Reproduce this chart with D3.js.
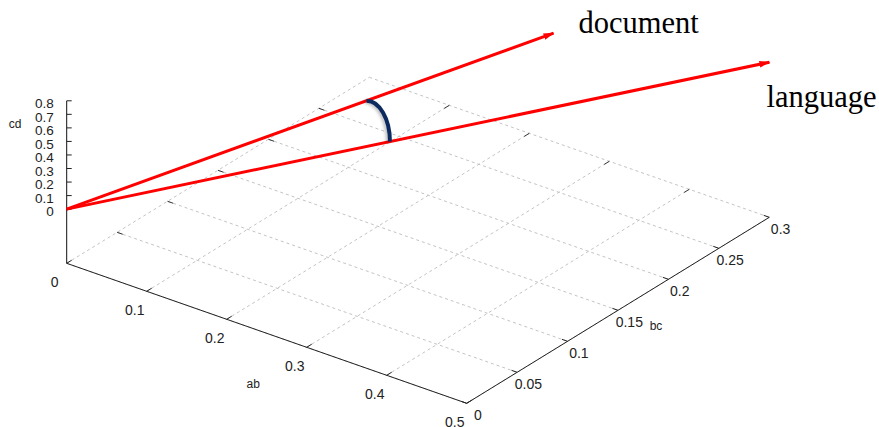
<script src="https://d3js.org/d3.v7.min.js"></script>

<style>
  body { margin: 0; background: #fff; }
  .tick-label, .axis-title { font-family: "Liberation Sans", Arial, sans-serif; fill: #222; }
  .vec-label { font-family: "Liberation Serif", "Times New Roman", serif; fill: #000; }
</style>

<svg id="main_canvas" width=879 height=427></svg>

<script>
  "use strict";

  // Tick values on the three axes
  const AB_TICKS = [0, 0.1, 0.2, 0.3, 0.4, 0.5];
  const BC_TICKS = [0, 0.05, 0.1, 0.15, 0.2, 0.25, 0.3];
  const CD_TICKS = [0, 0.1, 0.2, 0.3, 0.4, 0.5, 0.6, 0.7, 0.8];

  // The two vectors (ab, bc, cd components)
  const VECTOR_NAMES = ["document", "language"];
  const VECTOR_AB = [0.265, 0.422];
  const VECTOR_BC = [0.2725, 0.362];
  const VECTOR_CD = [0.6, 0.3];
  // where the angle arc touches each vector (fraction of its length)
  const ARC_AT = [0.616, 0.46];

  const FLOOR_CD = -0.4; // base plane sits below cd = 0
  const ORIGIN_X = 66.7;

  // screen offsets contributed by each axis
  const abX = d3.scaleLinear().domain([0, 0.5]).range([0, 400]);
  const abY = d3.scaleLinear().domain([0, 0.5]).range([0, 140]);
  const bcX = d3.scaleLinear().domain([0, 0.3]).range([0, 302.6]);
  const bcY = d3.scaleLinear().domain([0, 0.3]).range([0, -186]);
  const cdY = d3.scaleLinear().domain([FLOOR_CD, 0.8]).range([263.3, 100.8]);

  const project = (a, b, c) => [ORIGIN_X + abX(a) + bcX(b), cdY(c) + abY(a) + bcY(b)];
  const fmt = (v) => String(v);

  const canvas = d3.select("#main_canvas");
  const line = d3.line();

  // Floor grid (dashed)
  const AB_MAX = AB_TICKS[AB_TICKS.length - 1];
  const BC_MAX = BC_TICKS[BC_TICKS.length - 1];

  canvas.append("g")
    .selectAll("path")
    .data(AB_TICKS)
    .enter()
    .append("path")
    .attr("d", (t) => line([project(t, 0, FLOOR_CD), project(t, BC_MAX, FLOOR_CD)]))
    .attr("stroke", "#c4c4c4")
    .attr("stroke-dasharray", "3,3")
    .attr("fill", "none");

  canvas.append("g")
    .selectAll("path")
    .data(BC_TICKS)
    .enter()
    .append("path")
    .attr("d", (t) => line([project(0, t, FLOOR_CD), project(AB_MAX, t, FLOOR_CD)]))
    .attr("stroke", "#c4c4c4")
    .attr("stroke-dasharray", "3,3")
    .attr("fill", "none");

  // Mirror ticks on the back edges
  canvas.append("g")
    .selectAll("path")
    .data(BC_TICKS.slice(1, -1))
    .enter()
    .append("path")
    .attr("d", (t) => line([project(0, t, FLOOR_CD), project(0.007, t, FLOOR_CD)]))
    .attr("stroke", "#333");

  canvas.append("g")
    .selectAll("path")
    .data(AB_TICKS.slice(1, -1))
    .enter()
    .append("path")
    .attr("d", (t) => line([project(t, BC_MAX, FLOOR_CD), project(t, BC_MAX - 0.005, FLOOR_CD)]))
    .attr("stroke", "#333");

  // ab axis
  canvas.append("path")
    .attr("d", line([project(0, 0, FLOOR_CD), project(AB_MAX, 0, FLOOR_CD)]))
    .attr("stroke", "#222")
    .attr("fill", "none");

  canvas.append("g")
    .selectAll("path")
    .data(AB_TICKS)
    .enter()
    .append("path")
    .attr("d", (t) => line([project(t, 0, FLOOR_CD), project(t, 0.005, FLOOR_CD)]))
    .attr("stroke", "#222");

  canvas.append("g")
    .selectAll("text")
    .data(AB_TICKS)
    .enter()
    .append("text")
    .attr("class", "tick-label")
    .attr("x", (t) => project(t, 0, FLOOR_CD)[0] - 12)
    .attr("y", (t) => project(t, 0, FLOOR_CD)[1] + 18.5)
    .attr("dy", "0.36em")
    .attr("text-anchor", "middle")
    .attr("font-size", 14)
    .text(fmt);

  // bc axis
  canvas.append("path")
    .attr("d", line([project(AB_MAX, 0, FLOOR_CD), project(AB_MAX, BC_MAX, FLOOR_CD)]))
    .attr("stroke", "#222")
    .attr("fill", "none");

  canvas.append("g")
    .selectAll("path")
    .data(BC_TICKS)
    .enter()
    .append("path")
    .attr("d", (t) => line([project(AB_MAX, t, FLOOR_CD), project(AB_MAX - 0.007, t, FLOOR_CD)]))
    .attr("stroke", "#222");

  canvas.append("g")
    .selectAll("text")
    .data(BC_TICKS)
    .enter()
    .append("text")
    .attr("class", "tick-label")
    .attr("x", (t) => project(AB_MAX, t, FLOOR_CD)[0] + 11.3)
    .attr("y", (t) => project(AB_MAX, t, FLOOR_CD)[1] + 11.5)
    .attr("dy", "0.36em")
    .attr("text-anchor", "middle")
    .attr("font-size", 14)
    .text(fmt);

  // cd axis
  const CD_MAX = CD_TICKS[CD_TICKS.length - 1];
  canvas.append("path")
    .attr("d", line([project(0, 0, FLOOR_CD), project(0, 0, CD_MAX)]))
    .attr("stroke", "#111")
    .attr("fill", "none");

  canvas.append("g")
    .selectAll("path")
    .data(CD_TICKS)
    .enter()
    .append("path")
    .attr("d", (t) => {
      const p = project(0, 0, t);
      return line([p, [p[0] + 5, p[1]]]);
    })
    .attr("stroke", "#222");

  canvas.append("g")
    .selectAll("text")
    .data(CD_TICKS)
    .enter()
    .append("text")
    .attr("class", "tick-label")
    .attr("x", (t) => project(0, 0, t)[0] - 13)
    .attr("y", (t) => project(0, 0, t)[1] + 2.5)
    .attr("dy", "0.36em")
    .attr("text-anchor", "end")
    .attr("font-size", 13.5)
    .text(fmt);

  // Axis titles
  const abTitle = project(AB_MAX / 2, 0, FLOOR_CD);
  const bcTitle = project(AB_MAX, BC_MAX / 2, FLOOR_CD);
  const cdTitle = project(0, 0, 0.65);
  canvas.append("text")
    .attr("class", "axis-title")
    .attr("x", abTitle[0] - 13.4).attr("y", abTitle[1] + 50)
    .attr("dy", "0.36em").attr("text-anchor", "middle").attr("font-size", 12)
    .text("ab");
  canvas.append("text")
    .attr("class", "axis-title")
    .attr("x", bcTitle[0] + 38).attr("y", bcTitle[1] + 15.7)
    .attr("dy", "0.36em").attr("text-anchor", "middle").attr("font-size", 12)
    .text("bc");
  canvas.append("text")
    .attr("class", "axis-title")
    .attr("x", cdTitle[0] - 51.7).attr("y", cdTitle[1] + 3)
    .attr("dy", "0.36em").attr("text-anchor", "middle").attr("font-size", 12)
    .text("cd");

  // Arrow marker
  canvas.append("defs")
    .append("marker")
    .attr("id", "head")
    .attr("markerUnits", "userSpaceOnUse")
    .attr("viewBox", "0 -4 11 8")
    .attr("refX", 10)
    .attr("refY", 0)
    .attr("markerWidth", 11)
    .attr("markerHeight", 8)
    .attr("orient", "auto")
    .append("path")
    .attr("d", "M0,-3.3L11,0L0,3.3Z")
    .attr("fill", "#f00");

  canvas.select("defs")
    .append("filter")
    .attr("id", "soft")
    .attr("x", "-50%").attr("y", "-50%").attr("width", "200%").attr("height", "200%")
    .append("feDropShadow")
    .attr("dx", -2).attr("dy", 1)
    .attr("stdDeviation", 1.8)
    .attr("flood-color", "#000")
    .attr("flood-opacity", 0.25);

  // Vectors
  const vectors = VECTOR_NAMES.map((name, i) => ({
    name: name,
    tip: project(VECTOR_AB[i], VECTOR_BC[i], VECTOR_CD[i]),
    arc: project(VECTOR_AB[i] * ARC_AT[i], VECTOR_BC[i] * ARC_AT[i], VECTOR_CD[i] * ARC_AT[i])
  }));
  const origin = project(0, 0, 0);

  canvas.append("g")
    .selectAll("path")
    .data(vectors)
    .enter()
    .append("path")
    .attr("d", (d) => line([origin, d.tip]))
    .attr("stroke", "#f00")
    .attr("stroke-width", 3)
    .attr("fill", "none")
    .attr("marker-end", "url(#head)");

  // Angle arc between the two vectors
  const A = vectors[0].arc;
  const B = vectors[1].arc;
  const K = 0.55;
  canvas.append("path")
    .attr("d", `M${A[0]},${A[1]} C${A[0] + K * (B[0] - A[0])},${A[1]} ` +
      `${B[0]},${B[1] - K * (B[1] - A[1])} ${B[0]},${B[1]}`)
    .attr("stroke", "#0b2b5e")
    .attr("stroke-width", 4)
    .attr("fill", "none")
    .attr("filter", "url(#soft)");

  // Vector names
  canvas.append("text")
    .attr("class", "vec-label")
    .attr("x", vectors[0].tip[0] + 25)
    .attr("y", vectors[0].tip[1])
    .attr("font-size", 30.5)
    .text(vectors[0].name);

  canvas.append("text")
    .attr("class", "vec-label")
    .attr("x", vectors[1].tip[0] - 3)
    .attr("y", vectors[1].tip[1] + 45)
    .attr("font-size", 30.5)
    .text(vectors[1].name);
</script>
